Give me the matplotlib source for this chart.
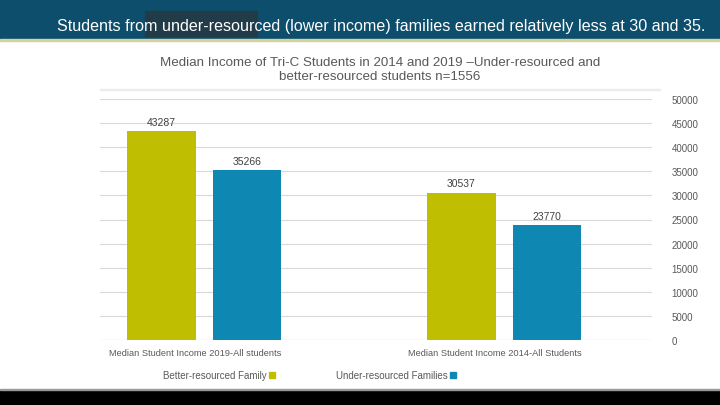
import matplotlib.pyplot as plt
from matplotlib.patches import Rectangle

# data (reference picture is mirrored left-right, so categories run right to left)
categories = ["Median Student Income 2014-All Students", "Median Student Income 2019-All students"]
better_vals = [30537, 43287]
under_vals = [23770, 35266]
series_names = ["Better-resourced Family", "Under-resourced Families"]
yticks = [0, 5000, 10000, 15000, 20000, 25000, 30000, 35000, 40000, 45000, 50000]

YELLOW = "#c0be00"
BLUE = "#0e87b3"
TEAL = "#0c4e6c"
GRAY = "#595959"

plt.rcParams["font.family"] = ["Liberation Sans", "DejaVu Sans"]

fig = plt.figure(figsize=(7.2, 4.06), dpi=100)
W, H = 720, 406

def fx(px):
    return px / W

def fy(py):
    return 1 - py / H

# top banner
fig.patches.append(Rectangle((0, fy(40)), 1, 40 / H, transform=fig.transFigure,
                             color=TEAL, zorder=0))
fig.patches.append(Rectangle((fx(145), fy(37)), 112 / W, 25 / H, transform=fig.transFigure,
                             color="#213b49", zorder=1))
fig.patches.append(Rectangle((0, fy(42)), 1, 2 / H, transform=fig.transFigure,
                             color="#d3d3a0", zorder=1))
fig.text(fx(705), fy(26), "Students from under-resourced (lower income) families earned relatively less at 30 and 35.",
         ha="right", va="center", color="white", fontsize=11.6, zorder=2)

# bottom black band
fig.patches.append(Rectangle((0, 0), 1, 15 / H, transform=fig.transFigure,
                             color="black", zorder=0))
fig.patches.append(Rectangle((0, 15 / H), 1, 1.5 / H, transform=fig.transFigure,
                             color="#9a9a9a", zorder=0))

# faint separator under chart title
fig.patches.append(Rectangle((fx(100), fy(91)), 560 / W, 1 / H, transform=fig.transFigure,
                             color="#ececec", zorder=0))

# chart title
fig.text(fx(380), fy(70), "Median Income of Tri-C Students in 2014 and 2019 \u2013Under-resourced and\nbetter-resourced students n=1556",
         ha="center", va="center", color=GRAY, fontsize=9.6, linespacing=1.3)

ax = fig.add_axes([fx(100), fy(341), fx(652) - fx(100), (341 - 100) / H])

x = list(range(len(categories)))
bw = 0.227
off = 0.142
# axis is inverted, so +off puts the bar on the left of each group
b1 = ax.bar([i + off for i in x], better_vals, width=bw, color=YELLOW, zorder=3)
b2 = ax.bar([i - off for i in x], under_vals, width=bw, color=BLUE, zorder=3)

for bars, vals in ((b1, better_vals), (b2, under_vals)):
    for rect, v in zip(bars, vals):
        ax.text(rect.get_x() + rect.get_width() / 2, v + 900, str(v),
                ha="center", va="bottom", fontsize=7.5, color="#404040")

ax.set_xlim(1.347, -0.493)  # inverted to match mirrored layout
ax.set_ylim(0, 50000)
ax.set_yticks(yticks)
ax.yaxis.tick_right()
ax.tick_params(axis="y", length=0, pad=14, labelsize=7, labelcolor=GRAY)
ax.set_xticks([i + 0.03 for i in x])
ax.set_xticklabels(categories)
ax.tick_params(axis="x", length=0, pad=6, labelsize=6.7, labelcolor=GRAY)
ax.grid(axis="y", color="#d9d9d9", linewidth=0.8, zorder=0)
for s in ax.spines.values():
    s.set_visible(False)
ax.axhline(0, color="#d9d9d9", linewidth=0.8, zorder=1)

# legend (marker to the right of the text, mirrored layout)
legend_items = [(series_names[0], YELLOW, 272), (series_names[1], BLUE, 453)]
for name, col, mx in legend_items:
    fig.patches.append(Rectangle((fx(mx - 3), fy(379)), 6 / W, 6 / H,
                                 transform=fig.transFigure, color=col))
    fig.text(fx(mx - 5), fy(376), name, ha="right", va="center",
             fontsize=7, color=GRAY)

fig.savefig("out.png", dpi=100, facecolor="white")
